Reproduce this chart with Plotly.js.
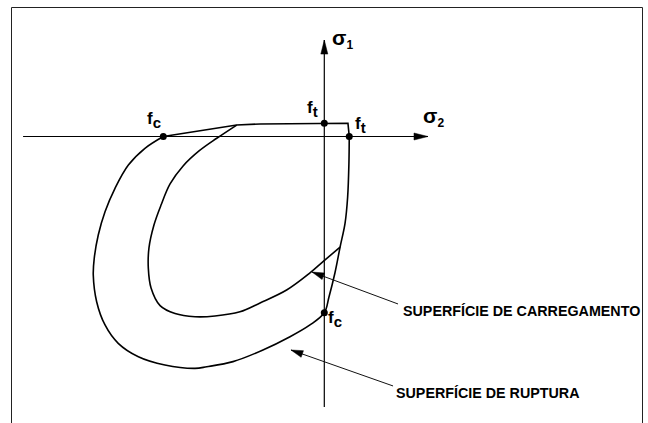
<!DOCTYPE html>
<html>
<head>
<meta charset="utf-8">
<script src="https://cdn.plot.ly/plotly-3.0.1.min.js"></script>
<style>
  html, body { margin: 0; padding: 0; background: #fff; }
  #chart { width: 648px; height: 423px; }
</style>
</head>
<body>
<div id="chart"></div>
<script>
// Biaxial stress plane: sigma2 horizontal, sigma1 vertical, stresses normalised by fc.

// Rupture surface, straight upper branch (fc on sigma2 -> ft on sigma1 -> ft on sigma2)
const rupturaTopS2 = [-1.000, -0.544, -0.399, 0.000, 0.147, 0.155];
const rupturaTopS1 = [ 0.000,  0.065,  0.071, 0.075, 0.075, 0.000];

// Rupture surface, curved branch (ft on sigma2 -> fc on sigma1 -> back to fc on sigma2)
const rupturaCurveS2 = [0.155, 0.153, 0.145, 0.129, 0.098, 0.066, 0.029, 0.000,
  -0.089, -0.213, -0.381, -0.567, -0.730, -0.803, -0.990, -1.155, -1.280, -1.362,
  -1.414, -1.435, -1.429, -1.404, -1.362, -1.300, -1.217, -1.114, -1.000];
const rupturaCurveS1 = [0.000, -0.150, -0.343, -0.491, -0.627, -0.774, -0.910, -1.000,
  -1.069, -1.136, -1.211, -1.277, -1.306, -1.315, -1.296, -1.249, -1.173, -1.069,
  -0.937, -0.786, -0.691, -0.559, -0.427, -0.294, -0.162, -0.067, 0.000];

// Loading surface
const carregamentoS2 = [-0.544, -0.668, -0.778, -0.877, -0.958, -1.014, -1.058, -1.089,
  -1.093, -1.076, -1.020, -0.927, -0.803, -0.679, -0.524, -0.399, -0.234, -0.089, -0.008, 0.098];
const carregamentoS1 = [0.065, -0.010, -0.082, -0.167, -0.269, -0.389, -0.502, -0.632,
  -0.748, -0.859, -0.959, -1.004, -1.022, -1.018, -0.994, -0.944, -0.871, -0.774, -0.710, -0.627];

// Strength points: fc (sigma2), ft (sigma1), ft (sigma2), fc (sigma1)
const pontosS2 = [-1.000, 0.000, 0.155, 0.000];
const pontosS1 = [ 0.000, 0.075, 0.000, -1.000];
const pontosRotulos = ['f<sub><span style="font-size:15px">c</span></sub>',
                       'f<sub><span style="font-size:15px">t</span></sub>',
                       'f<sub><span style="font-size:15px">t</span></sub>',
                       'f<sub><span style="font-size:15px">c</span></sub>'];

// Axis extents (tail, tip)
const eixoS2 = { from: [-1.871, 0.0], to: [0.644, 0.0], label: 'σ<sub><span style="font-size:12px">2</span></sub>' };
const eixoS1 = { from: [0.0, -1.534], to: [0.0, 0.547], label: 'σ<sub><span style="font-size:12px">1</span></sub>' };

// Callouts (text end, arrow tip)
const rotuloCarregamento = { text: 'SUPERFÍCIE DE CARREGAMENTO', from: [0.458, -0.950], to: [-0.076, -0.769] };
const rotuloRuptura      = { text: 'SUPERFÍCIE DE RUPTURA',      from: [0.427, -1.415], to: [-0.207, -1.211] };

// ---- layout geometry ----
const W = 648, H = 423;
const xRange = [-2.0143, 2.0106];
const yRange = [-1.6251, 0.7743];
const kx = W / (xRange[1] - xRange[0]);   // px per unit along sigma2
const ky = H / (yRange[1] - yRange[0]);   // px per unit along sigma1

// filled arrow head, length/half-width in px, returned as a data-space path
function arrowHead(tail, tip, len, half) {
  const dx = (tip[0] - tail[0]) * kx, dy = (tip[1] - tail[1]) * ky;
  const d = Math.hypot(dx, dy), ux = dx / d, uy = dy / d;
  const bx = tip[0] * kx - ux * len, by = tip[1] * ky - uy * len;
  const p1 = [(bx - uy * half) / kx, (by + ux * half) / ky];
  const p2 = [(bx + uy * half) / kx, (by - ux * half) / ky];
  return {
    type: 'path', xref: 'x', yref: 'y',
    path: `M${tip[0]},${tip[1]} L${p1[0]},${p1[1]} L${p2[0]},${p2[1]} Z`,
    fillcolor: '#000', line: { color: '#000', width: 0.5 }
  };
}
function segment(tail, tip, width, color) {
  return { type: 'line', xref: 'x', yref: 'y',
    x0: tail[0], y0: tail[1], x1: tip[0], y1: tip[1],
    line: { color: color, width: width } };
}

const curveLine = { color: '#000', width: 1.6 };
const traces = [
  { x: rupturaTopS2, y: rupturaTopS1, mode: 'lines', line: Object.assign({ shape: 'linear' }, curveLine), hoverinfo: 'skip' },
  { x: rupturaCurveS2, y: rupturaCurveS1, mode: 'lines', line: Object.assign({ shape: 'spline', smoothing: 1 }, curveLine), hoverinfo: 'skip' },
  { x: carregamentoS2, y: carregamentoS1, mode: 'lines', line: Object.assign({ shape: 'spline', smoothing: 1 }, curveLine), hoverinfo: 'skip' },
  { x: pontosS2, y: pontosS1, mode: 'markers', marker: { color: '#000', size: 7 }, hoverinfo: 'skip' }
];

const shapes = [
  // figure frame
  { type: 'rect', xref: 'paper', yref: 'paper', x0: 11.5 / W, x1: 642.5 / W, y0: -0.05, y1: 1 - 7.5 / H,
    line: { color: '#222', width: 1 } },
  segment(eixoS2.from, eixoS2.to, 1.2, '#000'),
  segment(eixoS1.from, eixoS1.to, 1.2, '#000'),
  arrowHead(eixoS2.from, eixoS2.to, 14, 3.5),
  arrowHead(eixoS1.from, eixoS1.to, 14, 3.5),
  segment(rotuloCarregamento.from, rotuloCarregamento.to, 1, '#111'),
  segment(rotuloRuptura.from, rotuloRuptura.to, 1, '#111'),
  arrowHead(rotuloCarregamento.from, rotuloCarregamento.to, 12, 3.5),
  arrowHead(rotuloRuptura.from, rotuloRuptura.to, 12, 3.5)
];

const fLabel = { family: '"Liberation Sans", Arial, sans-serif', size: 17, color: '#000' };
const sigmaFont = { family: '"Liberation Sans", Arial, sans-serif', size: 21, color: '#000' };
const calloutFont = { family: '"Liberation Sans", Arial, sans-serif', size: 14.3, color: '#000' };

// label placement relative to each strength point
const pontoAncora = [
  { xanchor: 'right', yanchor: 'bottom', xshift: 0, yshift: 4 },
  { xanchor: 'right', yanchor: 'bottom', xshift: -4, yshift: 1 },
  { xanchor: 'left',  yanchor: 'bottom', xshift: 4, yshift: -1 },
  { xanchor: 'left',  yanchor: 'top',    xshift: 2, yshift: 7 }
];

const annotations = pontosS2.map((s2, i) => Object.assign({
  x: s2, y: pontosS1[i], xref: 'x', yref: 'y', showarrow: false,
  text: '<b>' + pontosRotulos[i] + '</b>', font: fLabel
}, pontoAncora[i]));

annotations.push(
  { x: eixoS1.to[0], y: eixoS1.to[1], xref: 'x', yref: 'y', showarrow: false,
    text: '<b>' + eixoS1.label + '</b>', font: sigmaFont, xanchor: 'left', yanchor: 'middle', xshift: 6, yshift: 1 },
  { x: eixoS2.to[0], y: eixoS2.to[1], xref: 'x', yref: 'y', showarrow: false,
    text: '<b>' + eixoS2.label + '</b>', font: sigmaFont, xanchor: 'left', yanchor: 'bottom', xshift: -7, yshift: 5 },
  { x: rotuloCarregamento.from[0], y: rotuloCarregamento.from[1], xref: 'x', yref: 'y', showarrow: false,
    text: '<b>' + rotuloCarregamento.text + '</b>', font: calloutFont, xanchor: 'left', yanchor: 'middle', xshift: 3, yshift: -7 },
  { x: rotuloRuptura.from[0], y: rotuloRuptura.from[1], xref: 'x', yref: 'y', showarrow: false,
    text: '<b>' + rotuloRuptura.text + '</b>', font: calloutFont, xanchor: 'left', yanchor: 'middle', xshift: 1, yshift: -7 }
);

const layout = {
  width: W, height: H,
  margin: { l: 0, r: 0, t: 0, b: 0 },
  paper_bgcolor: '#fff', plot_bgcolor: '#fff',
  showlegend: false,
  xaxis: { range: xRange, visible: false, fixedrange: true },
  yaxis: { range: yRange, visible: false, fixedrange: true },
  shapes: shapes,
  annotations: annotations
};

Plotly.newPlot('chart', traces, layout, { staticPlot: true, displayModeBar: false });
</script>
</body>
</html>
